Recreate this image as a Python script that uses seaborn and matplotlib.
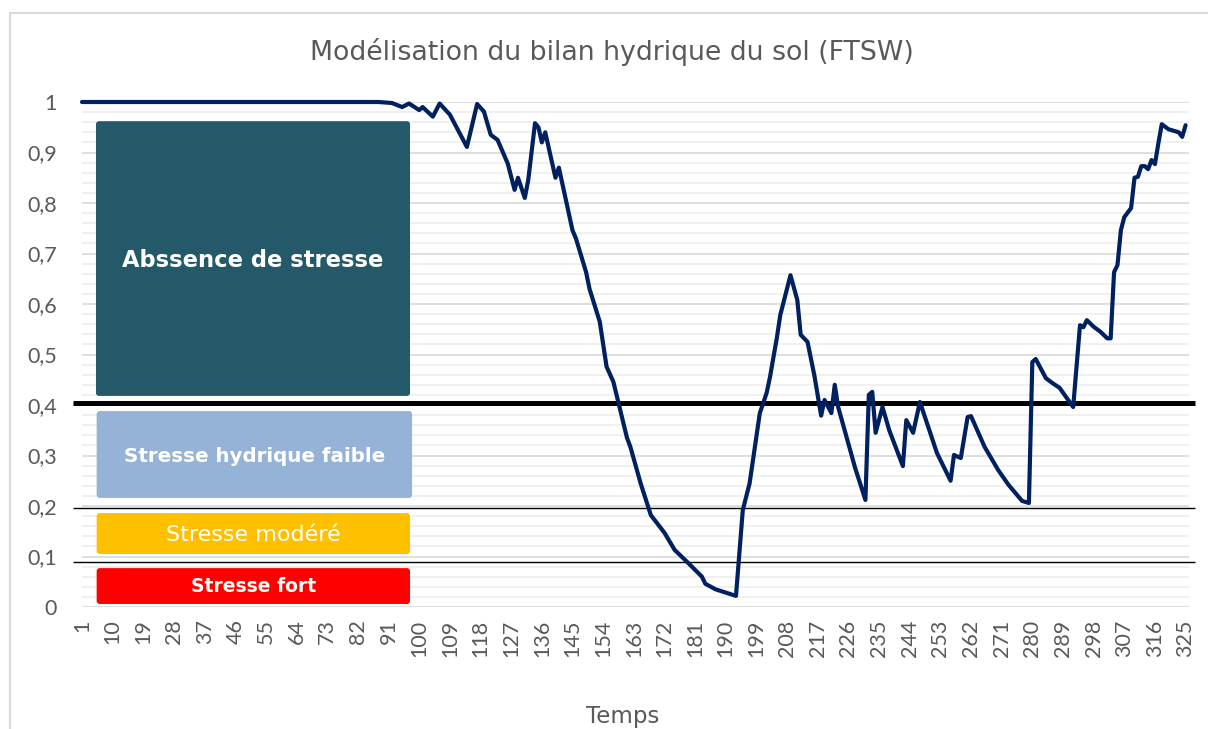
import matplotlib
matplotlib.use("Agg")
import matplotlib.pyplot as plt
import seaborn as sns
from matplotlib.patches import FancyBboxPatch, Rectangle

# ---------------- data ----------------
days = [1, 88, 92, 95, 97, 100, 101, 104, 106, 109, 114, 117, 119, 121, 123, 126,
        128, 129, 131, 132, 134, 135, 136, 137, 140, 141, 145, 146, 149, 150, 153,
        155, 157, 161, 162, 165, 168, 172, 175, 179, 183, 184, 187, 193, 195, 197,
        200, 202, 203, 205, 206, 209, 211, 212, 214, 216, 218, 219, 221, 222, 223,
        228, 231, 232, 233, 234, 236, 238, 242, 243, 245, 247, 252, 256, 257, 259,
        261, 262, 266, 270, 273, 277, 279, 280, 281, 284, 286, 288, 292, 294, 295,
        296, 298, 300, 302, 303, 304, 305, 306, 307, 309, 310, 311, 312, 313, 314,
        315, 316, 317, 318, 320, 323, 324, 325]
ftsw = [1.0, 1.0, 0.998, 0.99, 0.997, 0.984, 0.99, 0.971, 0.997, 0.975, 0.911, 0.996,
        0.981, 0.935, 0.925, 0.878, 0.826, 0.85, 0.81, 0.845, 0.958, 0.95, 0.92, 0.94,
        0.85, 0.87, 0.746, 0.73, 0.663, 0.63, 0.565, 0.476, 0.446, 0.335, 0.317, 0.245,
        0.182, 0.147, 0.113, 0.087, 0.06, 0.046, 0.035, 0.022, 0.192, 0.245, 0.384,
        0.424, 0.456, 0.533, 0.578, 0.657, 0.608, 0.539, 0.525, 0.459, 0.379, 0.41,
        0.384, 0.44, 0.396, 0.275, 0.212, 0.42, 0.426, 0.345, 0.396, 0.35, 0.279, 0.37,
        0.345, 0.406, 0.305, 0.25, 0.301, 0.295, 0.376, 0.378, 0.317, 0.271, 0.242,
        0.21, 0.206, 0.485, 0.491, 0.453, 0.443, 0.434, 0.396, 0.558, 0.554, 0.568,
        0.555, 0.545, 0.532, 0.532, 0.663, 0.677, 0.746, 0.772, 0.79, 0.85, 0.852,
        0.873, 0.873, 0.867, 0.885, 0.877, 0.918, 0.956, 0.946, 0.94, 0.931, 0.954]

x_ticks = [1, 10, 19, 28, 37, 46, 55, 64, 73, 82, 91, 100, 109, 118, 127, 136, 145,
           154, 163, 172, 181, 190, 199, 208, 217, 226, 235, 244, 253, 262, 271, 280,
           289, 298, 307, 316, 325]
y_ticks = [0, 0.1, 0.2, 0.3, 0.4, 0.5, 0.6, 0.7, 0.8, 0.9, 1.0]
y_tick_labels = ["0", "0,1", "0,2", "0,3", "0,4", "0,5", "0,6", "0,7", "0,8", "0,9", "1"]
threshold_levels = [0.404, 0.196, 0.089]
zone_labels = ["Abssence de stresse", "Stresse hydrique faible", "Stresse modéré", "Stresse fort"]

title = "Modélisation du bilan hydrique du sol (FTSW)"
x_label = "Temps"

# ---------------- style ----------------
sns.set_theme(style="white")
plt.rcParams['font.family'] = ['Lato', 'DejaVu Sans']
wide = ['DejaVu Sans']
grey = "#595959"

W, H = 1208, 729
fig = plt.figure(figsize=(W / 100, H / 100), dpi=100)
fig.patch.set_facecolor("white")
ax = fig.add_axes([82 / W, 122 / H, 1107 / W, 505 / H])
ax.set_facecolor("white")

# grid
ax.set_yticks([i * 0.02 for i in range(51)], minor=True)
ax.set_yticks(y_ticks)
ax.set_yticklabels(y_tick_labels)
ax.grid(axis="y", which="minor", color="#EEEEEE", lw=1.2)
ax.grid(axis="y", which="major", color="#D9D9D9", lw=1.2)
ax.set_axisbelow(True)

sns.lineplot(x=days, y=ftsw, ax=ax, color="#002060", lw=3.0, clip_on=False,
             solid_joinstyle="round", zorder=5)

ax.set_xlim(1, 326)
ax.set_ylim(0, 1)
ax.set_xticks(x_ticks)
ax.set_xticklabels([str(t) for t in x_ticks], rotation=90)
ax.tick_params(axis="both", which="both", length=0, colors=grey, labelsize=15.5)
ax.tick_params(axis="y", pad=18)
ax.tick_params(axis="x", pad=9)
for s in ax.spines.values():
    s.set_visible(False)
ax.set_xlabel("")
ax.set_ylabel("")

# threshold lines
trans = ax.get_yaxis_transform()
for lvl, lw in zip(threshold_levels, [3.6, 1.0, 1.0]):
    ax.plot([-0.0081, 1.0054], [lvl, lvl], transform=trans, color="black", lw=lw,
            clip_on=False, zorder=4, solid_capstyle="butt")

# zone boxes (data coords)
aspect = (1 / 505) / (1 / 3.406)
boxes = [
    (5.1, 0.418, 92.2, 0.544, "#235968", zone_labels[0], "bold", 16.3, 0.687),
    (5.3, 0.216, 92.6, 0.172, "#95B3D7", zone_labels[1], "bold", 14.3, 0.299),
    (5.3, 0.105, 92.0, 0.081, "#FFC000", zone_labels[2], "normal", 16, 0.143),
    (5.3, 0.006, 92.0, 0.071, "#FF0000", zone_labels[3], "bold", 13.5, 0.040),
]
for x0, y0, w, h, col, lab, wt, fs, ty in boxes:
    p = FancyBboxPatch((x0, y0), w, h, boxstyle="round,pad=0,rounding_size=0.9",
                       mutation_aspect=aspect, fc=col, ec="none", zorder=3, clip_on=False)
    ax.add_patch(p)
    ax.text(x0 + w / 2, ty, lab, color="white", fontsize=fs, fontweight=wt,
            ha="center", va="center", zorder=6, family=wide)

# title and axis label
fig.text(612 / W, 1 - 52 / H, title, ha="center", va="center", fontsize=19.3,
         color=grey, family=wide)
fig.text(623 / W, 1 - 723 / H, x_label, ha="center", va="baseline", fontsize=16.5,
         color=grey, family=wide)

# chart border
fig.add_artist(Rectangle((9.5 / W, -0.2), 2, 1 - 13 / H + 0.2, transform=fig.transFigure,
                         fill=False, ec="#D9D9D9", lw=1.5))

fig.savefig("out.png", dpi=100)
